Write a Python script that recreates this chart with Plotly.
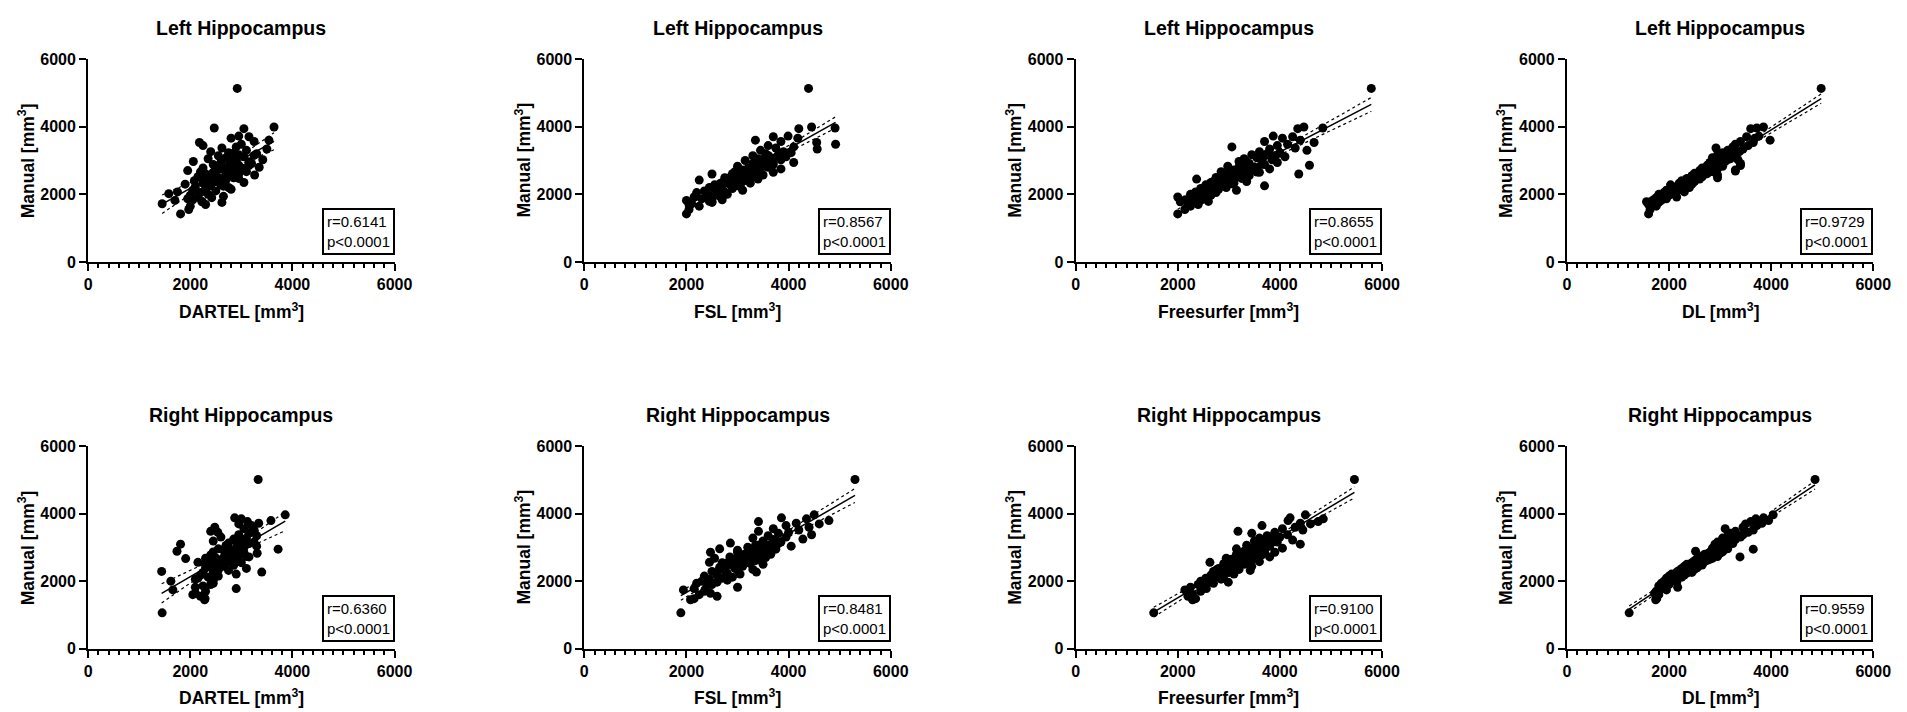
import numpy as np
import plotly.graph_objects as go

# ---------------- data (mm^3) ----------------
L_MAN = [5130, 3990, 3960, 3940, 3720, 3700, 3660, 3600, 3560, 3530, 3480, 3440, 3400, 3370, 3340, 3300,
         3260, 3230, 3200, 3170, 3140, 3110, 3080, 3050, 3020, 3000, 2970, 2940, 2910, 2880, 2860, 2830,
         2800, 2780, 2750, 2720, 2700, 2670, 2650, 2620, 2600, 2570, 2550, 2520, 2500, 2470, 2450, 2420,
         2400, 2380, 2350, 2330, 2300, 2280, 2250, 2230, 2200, 2170, 2150, 2120, 2100, 2070, 2050, 2020,
         2000, 1970, 1940, 1920, 1900, 1870, 1840, 1820, 1790, 1760, 1720, 1700, 1650, 1550, 1780, 1420,
         2460, 2540, 2610, 2690, 2760, 2820, 2890, 2960, 3030, 3090, 2380, 2310, 2240, 3150, 3210, 2580,
         2730, 2850, 2490, 2660]
L_DARTEL = [2920, 3640, 2470, 3050, 2950, 3150, 2800, 3540, 3250, 2180, 3000, 2250, 2900, 2620, 3500, 3100,
            2400, 2750, 3300, 2950, 2550, 3050, 2700, 2350, 3420, 2850, 2060, 2600, 3200, 2450, 2950, 2750,
            3350, 2250, 2600, 2900, 1950, 3100, 2450, 2700, 2300, 3260, 2850, 2150, 2550, 2950, 2400, 2700,
            2080, 2500, 3050, 2250, 1900, 2600, 2400, 2100, 2750, 2300, 2800, 2050, 2500, 1750, 2200, 1580,
            2350, 2000, 2650, 2150, 2420, 1950, 2050, 1700, 2230, 2620, 1450, 2300, 2000, 1970, 2230, 1810,
            2300, 2700, 2950, 2500, 3050, 2600, 2850, 3150, 2750, 2900, 2550, 2350, 2650, 3250, 2850, 2400,
            2750, 3150, 2850, 2200]
L_FSL = [4390, 4450, 4910, 4200, 3990, 3700, 4180, 3350, 3850, 4550, 4920, 3600, 4100, 3750, 4560, 3450,
         3900, 4050, 3550, 3800, 3300, 3950, 3650, 3400, 3850, 3150, 3550, 4100, 3300, 3700, 3450, 3000,
         3600, 3250, 3850, 3100, 3400, 2950, 3700, 3200, 2500, 3500, 3050, 3300, 2850, 3150, 3400, 2250,
         2950, 3100, 2700, 3250, 2850, 2550, 3000, 2700, 2450, 2900, 2600, 3100, 2350, 2750, 2200, 2550,
         2800, 2400, 2650, 2150, 2500, 2300, 2700, 2000, 2450, 2500, 2100, 2050, 2250, 2050, 2500, 2000,
         3000, 3250, 2900, 3350, 3200, 3500, 3350, 3700, 3500, 3750, 2800, 2650, 3050, 3600, 3850, 3350,
         3000, 3300, 2750, 3150]
L_FREESURFER = [5790, 4470, 4840, 4350, 3870, 4250, 4050, 4400, 3700, 4670, 4150, 3950, 3060, 4300, 3800, 4530,
                3600, 4000, 3750, 3450, 3900, 4100, 3550, 3300, 3850, 3650, 3200, 3950, 3400, 3700, 4580, 2980,
                3500, 3250, 3800, 3100, 3450, 2850, 3600, 3300, 4370, 3000, 3400, 3150, 2750, 3250, 2370, 3050,
                2850, 3350, 2650, 3100, 2900, 2550, 3700, 2700, 2950, 2450, 2800, 3150, 2600, 2350, 2750, 2500,
                2250, 2650, 2400, 2000, 2550, 2300, 2150, 2450, 2600, 2350, 2200, 2400, 2250, 2140, 2050, 2000,
                3100, 2900, 3350, 3000, 3550, 3200, 3650, 3350, 3900, 3600, 2700, 3050, 2800, 3700, 4000, 3200,
                3400, 3300, 3000, 3550]
L_DL = [4980, 3850, 3720, 3600, 3760, 3520, 3680, 3980, 3400, 3650, 3300, 3550, 3250, 2920, 3450, 3150,
        3380, 3050, 3300, 2950, 3250, 3100, 2850, 3200, 3350, 2900, 3100, 2800, 3400, 3000, 2750, 3050,
        2900, 2650, 2950, 3300, 2600, 2850, 2750, 2500, 2700, 2950, 2450, 2650, 2550, 2350, 2600, 2450,
        2250, 2500, 2400, 2200, 2450, 2030, 2300, 2150, 2400, 2050, 2250, 1950, 2150, 2300, 1900, 2100,
        1800, 2000, 1850, 2150, 1750, 1950, 1700, 1850, 1650, 1800, 1680, 1600, 1750, 1630, 1560, 1600,
        2550, 2450, 2750, 3300, 2850, 2800, 3050, 2880, 3150, 3000, 2400, 2300, 2350, 3250, 3200, 2600,
        2700, 3400, 2950, 2650]

R_MAN = [5020, 3970, 3880, 3850, 3800, 3770, 3720, 3700, 3650, 3600, 3560, 3520, 3480, 3450, 3420, 3380,
         3350, 3310, 3280, 3250, 3220, 3190, 3160, 3130, 3100, 3070, 3040, 3010, 2980, 2950, 2920, 2890,
         2860, 2830, 2800, 2780, 2750, 2720, 2700, 2670, 2640, 2610, 2580, 2550, 2520, 2500, 2470, 2440,
         2410, 2380, 2350, 2320, 2290, 2270, 2240, 2210, 2180, 2150, 2120, 2090, 2060, 2030, 2000, 1970,
         1940, 1900, 1860, 1820, 1780, 1740, 1700, 1640, 1600, 1550, 1480, 1450, 2560, 2680, 2960, 1060,
         2480, 2540, 2620, 2690, 2760, 2810, 2870, 2930, 3000, 3060, 3120, 3180, 2400, 2330, 2260, 2590,
         2730, 2850, 3240, 2650]
R_DARTEL = [3330, 3860, 2870, 3000, 3580, 3120, 3340, 2950, 3200, 2480, 3050, 3250, 2400, 2540, 3150, 2950,
            3300, 2600, 3100, 2850, 3000, 2450, 3250, 2750, 1810, 2950, 3300, 2700, 2900, 3720, 2650, 1740,
            3050, 3310, 2800, 2400, 2950, 3150, 2650, 1910, 2850, 2450, 2750, 3000, 2550, 2300, 2850, 2650,
            2400, 3100, 2500, 2750, 1440, 3400, 2450, 2900, 2200, 2550, 2350, 2150, 2100, 2450, 1620, 2420,
            2450, 2400, 2250, 2100, 2900, 1660, 2300, 2100, 2050, 2200, 2290, 2280, 2150, 2300, 2550, 1450,
            2450, 2350, 2800, 2500, 2750, 2950, 2450, 2800, 3050, 2700, 3150, 2900, 2300, 2550, 2250, 2400,
            3100, 2750, 3050, 2900]
R_FSL = [5300, 4500, 3860, 4350, 4790, 3410, 4150, 4600, 3950, 4400, 3700, 4200, 3410, 4000, 3800, 4450,
         3600, 3950, 3300, 4280, 3750, 3500, 3850, 2860, 3650, 3400, 4050, 3200, 3550, 3750, 3000, 3450,
         2470, 3300, 3650, 3100, 3400, 2850, 3550, 3200, 2950, 3350, 3050, 2700, 3250, 3500, 2900, 3100,
         2650, 2950, 3300, 2750, 2500, 3370, 2800, 3050, 2600, 2350, 2900, 2700, 2450, 2800, 2300, 2600,
         2200, 2500, 2400, 3000, 2150, 1940, 2350, 2470, 2250, 2600, 2150, 2080, 2450, 2550, 2650, 1890,
         3100, 2800, 3250, 3000, 3450, 3150, 3550, 3300, 3600, 3350, 3800, 3500, 2750, 3000, 2600, 2950,
         3300, 3000, 3700, 3400]
R_FREESURFER = [5460, 4500, 4200, 4850, 4160, 4750, 4400, 4600, 3650, 4300, 4050, 4450, 3180, 3900, 3450, 4150,
                3750, 4000, 3600, 3850, 4250, 3500, 3950, 3700, 4400, 3350, 3800, 3550, 4050, 3450, 3700, 3300,
                3900, 3550, 3150, 3650, 3400, 3800, 3250, 3500, 3050, 3350, 3600, 3150, 2900, 3300, 2950, 3450,
                3100, 2800, 3200, 3420, 2700, 3000, 2850, 3100, 2650, 2900, 2750, 2550, 2850, 2650, 2450, 2990,
                2700, 2400, 2550, 2250, 2560, 2140, 2450, 2230, 2300, 2200, 2350, 2290, 2630, 2950, 3150, 1530,
                3000, 3250, 3150, 3400, 3300, 3550, 3400, 3650, 3500, 3800, 3600, 3900, 2950, 2750, 3000, 3350,
                3200, 3700, 3750, 3050]
R_DL = [4860, 4040, 3850, 3700, 3950, 3600, 3820, 3500, 3720, 3450, 3100, 3650, 3300, 3550, 3200, 3450,
        3150, 3400, 3050, 3300, 3050, 3250, 2950, 3200, 2900, 3100, 2950, 3150, 2850, 3650, 3050, 2520,
        2800, 3000, 2700, 2900, 2650, 3390, 2800, 2550, 2750, 2500, 2700, 2450, 2650, 2350, 2600, 2300,
        2550, 2250, 2500, 2200, 2400, 2150, 2350, 2050, 2300, 2000, 2250, 1950, 2150, 2050, 1900, 2150,
        1850, 2000, 1800, 2170, 1850, 1950, 1750, 1720, 1800, 1750, 1760, 1740, 2650, 2850, 3150, 1220,
        2650, 2450, 2750, 2600, 2900, 2750, 3050, 2850, 3150, 2950, 3250, 3100, 2550, 2300, 2450, 2550,
        2950, 2800, 3300, 2800]

TITLES = ["Left Hippocampus", "Right Hippocampus"]
METHODS = ["DARTEL", "FSL", "Freesurfer", "DL"]
L_STATS = ["r=0.6141", "r=0.8567", "r=0.8655", "r=0.9729"]
R_STATS = ["r=0.6360", "r=0.8481", "r=0.9100", "r=0.9559"]
P_TEXT = "p&lt;0.0001"

# ---------------- layout geometry ----------------
W, H = 1907, 712
COL_X0 = [77, 579, 1076, 1573]
AX_W = 310
ROW_Y = [(44, 252), (441, 648)]   # (top px, bottom px)

FONT = "Liberation Sans, Arial, sans-serif"

fig = go.Figure()
annotations = []

panels = []
for row, (man, xs_list, stats) in enumerate([
        (L_MAN, [L_DARTEL, L_FSL, L_FREESURFER, L_DL], L_STATS),
        (R_MAN, [R_DARTEL, R_FSL, R_FREESURFER, R_DL], R_STATS)]):
    for col in range(4):
        panels.append((row, col, xs_list[col], man, stats[col]))

for k, (row, col, xs, ys, stat) in enumerate(panels):
    n = k + 1
    sfx = "" if n == 1 else str(n)
    xa, ya = "x" + sfx, "y" + sfx
    x = np.array(xs, dtype=float)
    y = np.array(ys, dtype=float)

    fig.add_trace(go.Scatter(x=x, y=y, mode="markers", xaxis=xa, yaxis=ya,
                             marker=dict(color="black", size=9, line=dict(width=0)),
                             showlegend=False, hoverinfo="skip"))
    # linear fit + 95% CI of the fit
    b, a = np.polyfit(x, y, 1)
    xx = np.linspace(x.min(), x.max(), 80)
    yy = a + b * xx
    nn = len(x)
    resid = y - (a + b * x)
    s = np.sqrt(np.sum(resid ** 2) / (nn - 2))
    sxx = np.sum((x - x.mean()) ** 2)
    se = s * np.sqrt(1.0 / nn + (xx - x.mean()) ** 2 / sxx)
    t = 1.98
    for band in (yy + t * se, yy - t * se):
        fig.add_trace(go.Scatter(x=xx, y=band, mode="lines", xaxis=xa, yaxis=ya,
                                 line=dict(color="black", width=1.2, dash="dot"),
                                 showlegend=False, hoverinfo="skip"))
    fig.add_trace(go.Scatter(x=xx, y=yy, mode="lines", xaxis=xa, yaxis=ya,
                             line=dict(color="black", width=1.5),
                             showlegend=False, hoverinfo="skip"))

    x0 = COL_X0[col]
    ytop, ybot = ROW_Y[row]
    dom_x = [x0 / W, (x0 + AX_W) / W]
    dom_y = [1 - ybot / H, 1 - ytop / H]
    common = dict(range=[0, 6000], showgrid=False, zeroline=False, showline=True,
                  linecolor="black", linewidth=2, ticks="outside", ticklen=7, tickwidth=2,
                  tickcolor="black", tick0=0, dtick=2000, fixedrange=True,
                  tickfont=dict(family=FONT, size=16, color="black", weight="bold"))
    fig.update_layout(**{
        ("xaxis" + sfx): dict(domain=dom_x, anchor=ya,
                              minor=dict(dtick=200, ticks="outside", ticklen=4.5, tickwidth=1.5,
                                         tickcolor="black", showgrid=False),
                              **common),
        ("yaxis" + sfx): dict(domain=dom_y, anchor=xa, **common),
    })

    cx = (x0 + AX_W / 2) / W
    # panel title
    annotations.append(dict(text="<b>%s</b>" % TITLES[row], xref="paper", yref="paper",
                            x=cx, y=1 - (ytop - 32) / H, xanchor="center", yanchor="middle",
                            showarrow=False, font=dict(family=FONT, size=19.5, color="black")))
    # x title
    annotations.append(dict(text="<b>%s [mm<sup>3</sup>]</b>" % METHODS[col], xref="paper", yref="paper",
                            x=cx, y=1 - (ybot + 50) / H, xanchor="center", yanchor="middle",
                            showarrow=False, font=dict(family=FONT, size=17.5, color="black")))
    # y title
    annotations.append(dict(text="<b>Manual [mm<sup>3</sup>]</b>", xref="paper", yref="paper",
                            x=(x0 - 62) / W, y=1 - ((ytop + ybot) / 2) / H, xanchor="center",
                            yanchor="middle", textangle=-90,
                            showarrow=False, font=dict(family=FONT, size=17.5, color="black")))
    # stats box
    annotations.append(dict(text=stat + "<br>" + P_TEXT, xref=xa, yref=ya, x=6000, y=0,
                            xanchor="right", yanchor="bottom", yshift=7, align="left",
                            showarrow=False, bordercolor="black", borderwidth=2, borderpad=3,
                            bgcolor="white",
                            font=dict(family=FONT, size=15, color="black")))

fig.update_layout(width=W, height=H, margin=dict(l=0, r=0, t=0, b=0),
                  paper_bgcolor="white", plot_bgcolor="white",
                  annotations=annotations, showlegend=False)

fig.write_html("out.html")
